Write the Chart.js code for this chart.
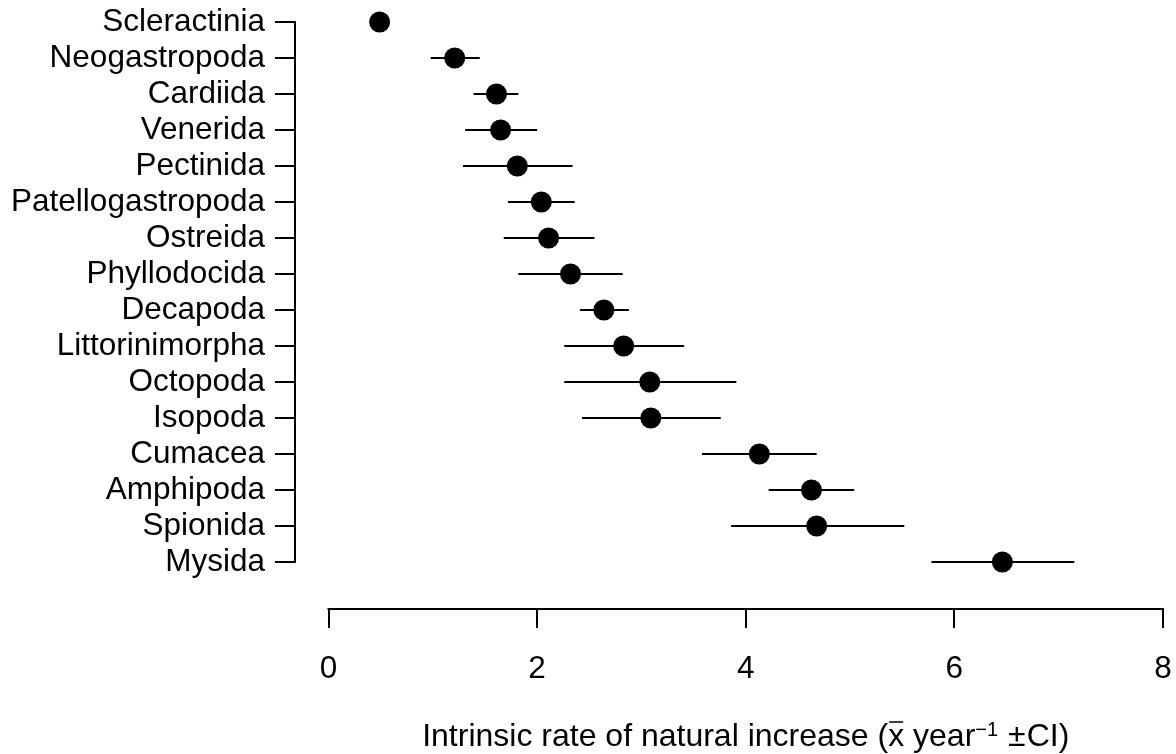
<!DOCTYPE html>
<html>
<head>
<meta charset="utf-8">
<script src="https://cdn.jsdelivr.net/npm/chart.js@4.4.1/dist/chart.umd.min.js"></script>
<style>
  html, body { margin: 0; padding: 0; background: #fff; }
</style>
</head>
<body>
<canvas id="chart" width="1176" height="754"></canvas>
<script>
// orders, top to bottom
const orders = ['Scleractinia', 'Neogastropoda', 'Cardiida', 'Venerida', 'Pectinida',
  'Patellogastropoda', 'Ostreida', 'Phyllodocida', 'Decapoda', 'Littorinimorpha',
  'Octopoda', 'Isopoda', 'Cumacea', 'Amphipoda', 'Spionida', 'Mysida'];
// mean intrinsic rate of increase per year
const rateMean = [0.49, 1.21, 1.61, 1.65, 1.81, 2.04, 2.11, 2.32, 2.64, 2.83,
  3.08, 3.09, 4.13, 4.63, 4.68, 6.46];
// confidence interval bounds
const ciLow = [0.44, 0.98, 1.39, 1.31, 1.29, 1.72, 1.68, 1.82, 2.41, 2.26,
  2.26, 2.43, 3.58, 4.22, 3.86, 5.78];
const ciHigh = [0.54, 1.45, 1.82, 2.00, 2.34, 2.36, 2.55, 2.82, 2.88, 3.41,
  3.91, 3.76, 4.68, 5.04, 5.52, 7.15];
const xTicks = [0, 2, 4, 6, 8];

const FONT = 'Liberation Sans, Arial, Helvetica, sans-serif';
const LABEL_SIZE = 31.5;
// where the x axis runs from 0 to 8 on the page
const X0_PX = 328.5, X8_PX = 1163;

// R-style axes: lines only span the first to last tick, plus the plotmath title
const baseAxes = {
  id: 'baseAxes',
  afterDraw(chart) {
    const { ctx, chartArea, scales: { x, y } } = chart;
    ctx.save();
    ctx.strokeStyle = '#000';
    ctx.lineWidth = 2;
    ctx.lineCap = 'square';
    ctx.beginPath();
    ctx.moveTo(chartArea.left, y.getPixelForValue(0));
    ctx.lineTo(chartArea.left, y.getPixelForValue(orders.length - 1));
    ctx.moveTo(x.getPixelForValue(xTicks[0]), chartArea.bottom);
    ctx.lineTo(x.getPixelForValue(xTicks[xTicks.length - 1]), chartArea.bottom);
    ctx.stroke();

    // axis title: Intrinsic rate of natural increase (x̄ year⁻¹ ± CI)
    const parts = [
      { t: 'Intrinsic rate of natural increase (', size: 32, rise: 0 },
      { t: 'x', size: 32, rise: 0, bar: true },
      { t: ' year', size: 32, rise: 0 },
      { t: '\u22121', size: 20, rise: 10 },
      { t: '\u00b1', size: 32, rise: 0, before: 10, after: 1 },
      { t: 'CI)', size: 32, rise: 0 }
    ];
    let total = 0;
    parts.forEach(p => {
      ctx.font = p.size + 'px ' + FONT;
      p.w = ctx.measureText(p.t).width;
      total += p.w + (p.before || 0) + (p.after || 0);
    });
    const cx = (x.getPixelForValue(0) + x.getPixelForValue(8)) / 2;
    const base = 746;
    let px = cx - total / 2;
    ctx.fillStyle = '#000';
    ctx.textBaseline = 'alphabetic';
    ctx.textAlign = 'left';
    parts.forEach(p => {
      px += p.before || 0;
      ctx.font = p.size + 'px ' + FONT;
      ctx.fillText(p.t, px, base - p.rise);
      if (p.bar) {
        ctx.lineWidth = 1.5;
        ctx.lineCap = 'butt';
        ctx.beginPath();
        ctx.moveTo(px + 1, base - 24);
        ctx.lineTo(px + p.w - 1, base - 24);
        ctx.stroke();
      }
      px += p.w + (p.after || 0);
    });
    ctx.restore();
  }
};

const ciSets = orders.map((name, i) => ({
  label: name + ' CI',
  data: [{ x: ciLow[i], y: i }, { x: ciHigh[i], y: i }],
  showLine: true,
  borderColor: '#000',
  borderWidth: 2,
  pointRadius: 0,
  pointHoverRadius: 0,
  clip: false,
  order: 1
}));

const meanSet = {
  label: 'Mean',
  data: rateMean.map((v, i) => ({ x: v, y: i })),
  pointRadius: 10.5,
  pointHoverRadius: 10.5,
  pointBackgroundColor: '#000',
  pointBorderWidth: 0,
  clip: false,
  order: 0
};

const chart = new Chart(document.getElementById('chart'), {
  type: 'scatter',
  data: { datasets: [...ciSets, meanSet] },
  plugins: [baseAxes],
  options: {
    responsive: false,
    animation: false,
    events: [],
    layout: { padding: { top: 22, left: 0, right: 0, bottom: 0 } },
    plugins: { legend: { display: false }, tooltip: { enabled: false } },
    scales: {
      x: {
        type: 'linear',
        min: -0.32,
        max: 8.127,
        afterBuildTicks: s => { s.ticks = xTicks.map(v => ({ value: v })); },
        afterFit: s => { s.height = 145; s.paddingLeft = 0; s.paddingRight = 0; },
        grid: { drawOnChartArea: false, drawTicks: true, tickLength: 19, color: '#000', lineWidth: 2 },
        border: { display: false },
        ticks: {
          color: '#000', padding: 22, maxRotation: 0, autoSkip: false,
          font: { family: FONT, size: LABEL_SIZE }
        }
      },
      y: {
        type: 'linear',
        reverse: true,
        min: 0,
        max: 16.306,
        afterBuildTicks: s => { s.ticks = orders.map((n, i) => ({ value: i })); },
        afterFit: s => { s.width = 295; s.paddingTop = 0; s.paddingBottom = 0; },
        grid: { drawOnChartArea: false, drawTicks: true, tickLength: 20, color: '#000', lineWidth: 2 },
        border: { display: false },
        ticks: {
          color: '#000', padding: 10, autoSkip: false,
          font: { family: FONT, size: LABEL_SIZE },
          callback: v => orders[v]
        }
      }
    }
  }
});

// stretch the x range so that 0 and 8 land at their fixed positions
const area = chart.chartArea;
const unit = (X8_PX - X0_PX) / 8;
chart.options.scales.x.min = (area.left - X0_PX) / unit;
chart.options.scales.x.max = (area.right - X0_PX) / unit;
chart.update();
</script>
</body>
</html>
